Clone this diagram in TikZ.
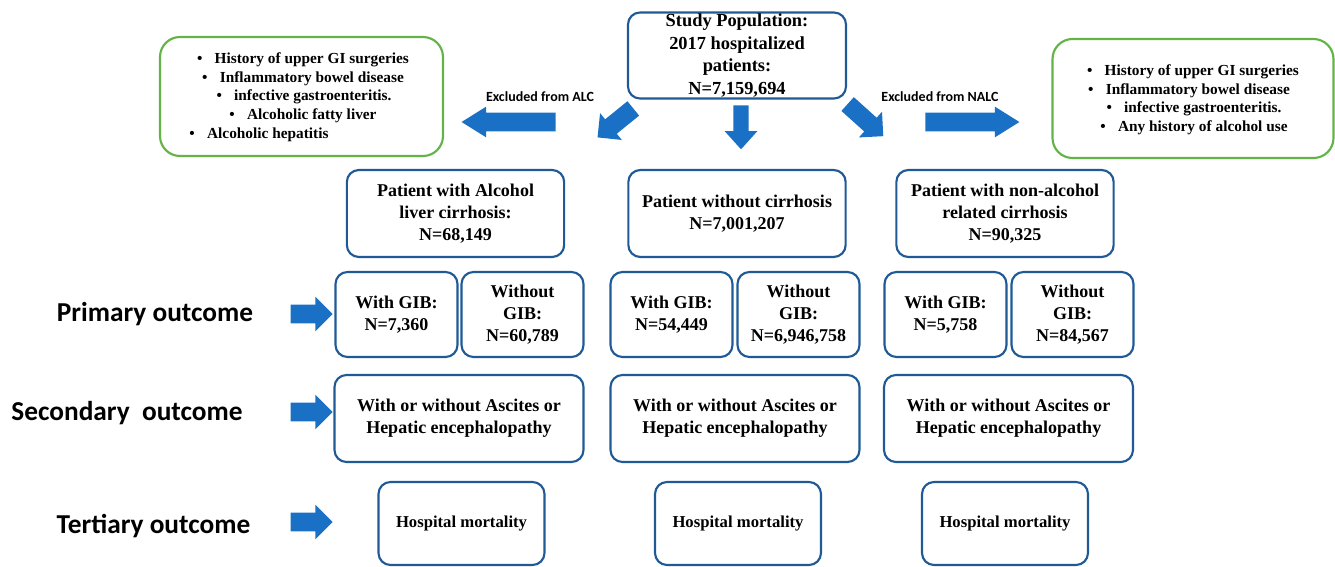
\documentclass[tikz,border=0pt]{standalone}
\usepackage{fontspec}
\setmainfont{Liberation Serif}
\newfontfamily\labelfont{Carlito}
\usetikzlibrary{shapes.arrows}
\definecolor{arrowblue}{HTML}{1A70C4}
\definecolor{boxblue}{HTML}{1F5A96}
\definecolor{boxgreen}{HTML}{62B446}
\tikzset{
 bluebox/.style={draw=boxblue, line width=1.6pt, rounded corners=9pt, fill=white, inner sep=0pt, align=center, font=\fontsize{13.5}{16.3}\selectfont\bfseries},
 greenbox/.style={draw=boxgreen, line width=1.6pt, rounded corners=15pt, inner sep=0pt},
 bullettext/.style={font=\fontsize{11.5}{13.5}\selectfont\bfseries, inner sep=0pt},
 outlabel/.style={font=\labelfont\fontsize{20.5}{24}\selectfont\bfseries, inner sep=0pt},
 exlabel/.style={font=\labelfont\fontsize{10.5}{12}\selectfont\bfseries, inner sep=0pt},
 blockarrow/.style={single arrow, fill=arrowblue, draw=none, inner xsep=0pt, single arrow head indent=0pt},
 sidearrow/.style={blockarrow, inner ysep=6.75pt, minimum height=31.5pt, minimum width=25.5pt, single arrow head extend=6pt},
 terbox/.style={bluebox, minimum width=124.5pt, minimum height=62.25pt, font=\fontsize{12.5}{15}\selectfont\bfseries},
 secbox/.style={bluebox, minimum width=186.75pt, minimum height=65.25pt},
 gibbox/.style={bluebox, minimum width=91.5pt, minimum height=63.75pt},
 cohbox/.style={bluebox, minimum width=163pt, minimum height=65.25pt},
}
\begin{document}
\begin{tikzpicture}[x=0.75pt,y=-0.75pt]
\useasboundingbox (0,0) rectangle (1335,567);

% top row
\node[bluebox, minimum width=163.5pt, minimum height=64.5pt, font=\fontsize{13.8}{17}\selectfont\bfseries] (study) at (737,55.5) {Study Population:\\2017 hospitalized\\patients:\\N=7,159,694};

% exclusion boxes
\node[greenbox, minimum width=212.25pt, minimum height=89.25pt] (exalc) at (301.5,96.5) {};
\node[bullettext] (a1) at (303,60) {\textbullet\hspace{0.8em}History of upper GI surgeries};
\node[bullettext] (a2) at (303,78.5) {\textbullet\hspace{0.8em}Inflammatory bowel disease};
\node[bullettext] (a3) at (304,97) {\textbullet\hspace{0.8em}infective gastroenteritis.};
\node[bullettext] (a4) at (303,116) {\textbullet\hspace{0.8em}Alcoholic fatty liver};
\node[bullettext] (a5) at (259,134.5) {\textbullet\hspace{0.8em}Alcoholic hepatitis};

\node[greenbox, minimum width=210.75pt, minimum height=89.25pt] (exnalc) at (1193,98.5) {};
\node[bullettext] (b1) at (1193,72) {\textbullet\hspace{0.8em}History of upper GI surgeries};
\node[bullettext] (b2) at (1189,90.5) {\textbullet\hspace{0.8em}Inflammatory bowel disease};
\node[bullettext] (b3) at (1194,109) {\textbullet\hspace{0.8em}infective gastroenteritis.};
\node[bullettext] (b4) at (1194,128) {\textbullet\hspace{0.8em}Any history of alcohol use};

\node[exlabel] (exl) at (540,97) {Excluded from ALC};
\node[exlabel] (exr) at (940,97) {Excluded from NALC};

% top block arrows
\node[blockarrow, inner ysep=6.75pt, minimum height=70.5pt, minimum width=22.5pt, single arrow head extend=4.5pt, single arrow tip angle=64, rotate=180] (arrl) at (516,122) {};
\node[blockarrow, inner ysep=6.75pt, minimum height=70.5pt, minimum width=22.5pt, single arrow head extend=4.5pt, single arrow tip angle=64] (arrr) at (965,122) {};
\node[blockarrow, inner ysep=5.6pt, minimum height=33pt, minimum width=24pt, single arrow head extend=6.4pt, single arrow tip angle=84, rotate=-90] (arrd) at (741,123) {};
\node[blockarrow, inner ysep=6.75pt, minimum height=34.5pt, minimum width=25.5pt, single arrow head extend=6pt, rotate=219] (arrdl) at (619,120) {};
\node[blockarrow, inner ysep=6.75pt, minimum height=36pt, minimum width=25.5pt, single arrow head extend=6pt, rotate=-42] (arrdr) at (862,117) {};

% cohorts
\node[cohbox] (alc) at (455.5,213.5) {Patient with Alcohol\\liver cirrhosis:\\N=68,149};
\node[cohbox] (nocirr) at (737,213.5) {Patient without cirrhosis\\N=7,001,207};
\node[cohbox] (nalc) at (1005,213.5) {Patient with non-alcohol\\related cirrhosis\\N=90,325};

% primary outcome
\node[gibbox] (alcg) at (396.5,314.5) {With GIB:\\N=7,360};
\node[gibbox] (alcng) at (522.5,314.5) {Without\\GIB:\\N=60,789};
\node[gibbox] (nocg) at (671.5,314.5) {With GIB:\\N=54,449};
\node[gibbox] (nocng) at (798.5,314.5) {Without\\GIB:\\N=6,946,758};
\node[gibbox] (nalcg) at (945.5,314.5) {With GIB:\\N=5,758};
\node[gibbox] (nalcng) at (1072.5,314.5) {Without\\GIB:\\N=84,567};

% secondary outcome
\node[secbox] (alcsec) at (459,418.5) {With or without Ascites or\\Hepatic encephalopathy};
\node[secbox] (nocsec) at (735,418.5) {With or without Ascites or\\Hepatic encephalopathy};
\node[secbox] (nalcsec) at (1008.5,418.5) {With or without Ascites or\\Hepatic encephalopathy};

% tertiary outcome
\node[terbox] (alcter) at (461.5,523.5) {Hospital mortality};
\node[terbox] (nocter) at (738,523.5) {Hospital mortality};
\node[terbox] (nalcter) at (1005,523.5) {Hospital mortality};

% outcome labels
\node[outlabel] (lprim) at (155,314) {Primary outcome};
\node[outlabel] (lsec) at (127,413) {Secondary\ \ outcome};
\node[outlabel] (lter) at (153.5,526) {Tertiary outcome};

\node[sidearrow] (sa1) at (307,314) {};
\node[sidearrow] (sa2) at (307,412) {};
\node[sidearrow] (sa3) at (307,522) {};
\end{tikzpicture}
\end{document}
